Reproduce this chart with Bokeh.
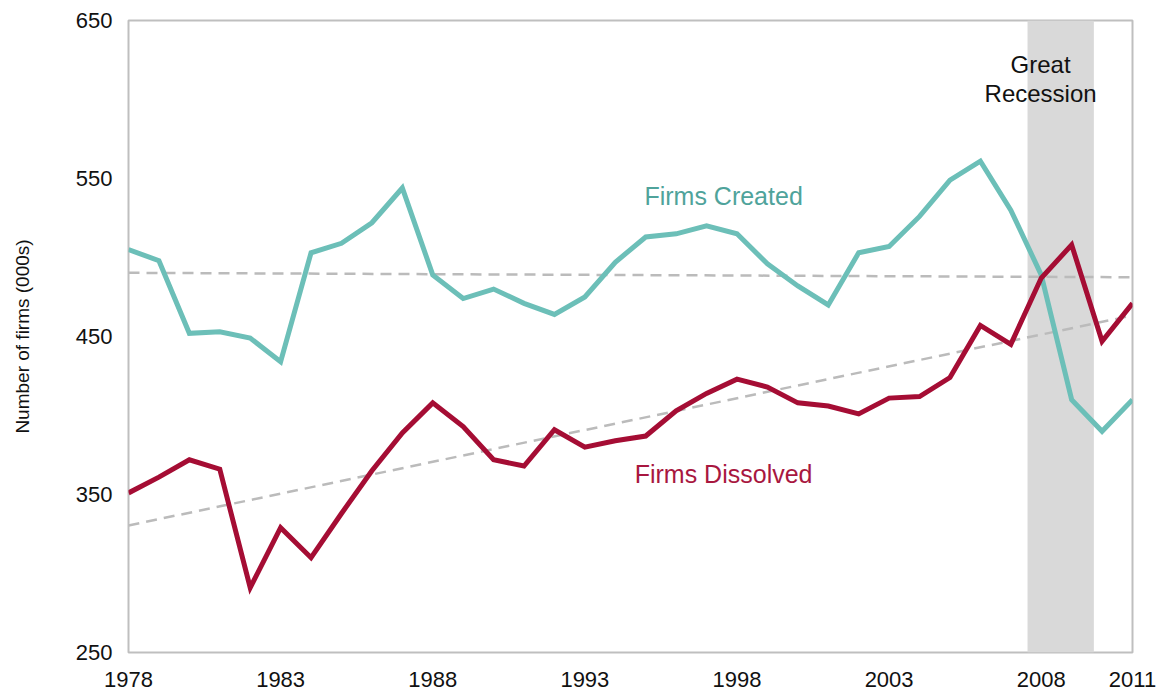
from bokeh.plotting import figure
from bokeh.models import FixedTicker, BoxAnnotation, Label
from bokeh.embed import file_html
from bokeh.resources import INLINE

years = list(range(1978, 2012))
firms_created = [505, 498, 452, 453, 449, 434, 503, 509, 522, 544,
                 489, 474, 480, 471, 464, 475, 497, 513, 515, 520,
                 515, 496, 482, 470, 503, 507, 526, 549, 561, 530,
                 489, 410, 390, 410]
firms_dissolved = [351, 361, 372, 366, 291, 329, 310, 338, 365, 389,
                   408, 393, 372, 368, 391, 380, 384, 387, 403, 414,
                   423, 418, 408, 406, 401, 411, 412, 424, 457, 445,
                   487, 508, 447, 471]
trend_years = [1978, 2011]
trend_created = [490.3, 487.5]
trend_dissolved = [330.4, 463.3]
recession = [2007.55, 2009.73]
x_ticks = [1978, 1983, 1988, 1993, 1998, 2003, 2008, 2011]
y_ticks = [250, 350, 450, 550, 650]

FONT = "Liberation Sans"
TEAL = "#6cbfb8"
RED = "#a50d34"

p = figure(width=1160, height=692, x_range=(1978, 2011), y_range=(250, 650),
           output_backend="svg", toolbar_location=None,
           min_border_left=128, min_border_right=28, min_border_top=20,
           min_border_bottom=40)
p.xgrid.grid_line_color = None
p.ygrid.grid_line_color = None
p.outline_line_color = "#bfbfbf"
p.outline_line_width = 2
p.background_fill_color = "white"

p.add_layout(BoxAnnotation(left=recession[0], right=recession[1],
                           fill_color="#d9d9d9", fill_alpha=1.0,
                           line_color=None, level="underlay"))

p.line(trend_years, trend_created, line_color="#bbbbbb", line_width=2.5,
       line_dash="11 7")
p.line(trend_years, trend_dissolved, line_color="#bbbbbb", line_width=2.5,
       line_dash="11 7")
p.line(years, firms_created, line_color=TEAL, line_width=5, line_join="miter")
p.line(years, firms_dissolved, line_color=RED, line_width=5, line_join="miter")

for ax in (p.xaxis[0], p.yaxis[0]):
    ax.axis_line_color = None
    ax.major_tick_line_color = None
    ax.minor_tick_line_color = None
    ax.major_tick_out = 0
    ax.major_tick_in = 0
    ax.major_label_text_font = FONT
    ax.major_label_text_font_size = "22px"
    ax.major_label_text_color = "#111111"

p.xaxis[0].ticker = FixedTicker(ticks=x_ticks)
p.yaxis[0].ticker = FixedTicker(ticks=y_ticks)
p.xaxis[0].major_label_standoff = 19
p.yaxis[0].major_label_standoff = 16
p.yaxis[0].axis_label = "Number of firms (000s)"
p.yaxis[0].axis_label_text_font = FONT
p.yaxis[0].axis_label_text_font_size = "19px"
p.yaxis[0].axis_label_text_font_style = "normal"
p.yaxis[0].axis_label_text_color = "#111111"
p.yaxis[0].axis_label_standoff = 40

def lab(x, y, text, color, size):
    p.add_layout(Label(x=x, y=y, text=text, text_font=FONT,
                       text_font_size=size, text_color=color,
                       text_align="center", text_baseline="middle"))

lab(1997.56, 539.2, "Firms Created", "#4fa39b", "25px")
lab(1997.56, 362.7, "Firms Dissolved", "#a8173f", "25px")
lab(2007.98, 622.2, "Great", "#111111", "24px")
lab(2007.98, 603.8, "Recession", "#111111", "24px")

open("out.html", "w").write(file_html(p, INLINE))
